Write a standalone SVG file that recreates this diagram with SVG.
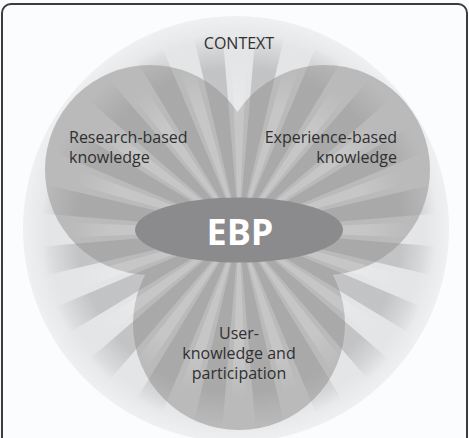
<svg xmlns="http://www.w3.org/2000/svg" xmlns:xlink="http://www.w3.org/1999/xlink" width="469" height="438" viewBox="0 0 469 438">
  <style>
    .lbl { font-family: "Open Sans", "Liberation Sans", sans-serif; font-size: 16px; fill: #303030; }
    .lobe { fill: #bababb; }
    .ebp { font-family: "Open Sans", "Liberation Sans", sans-serif; font-size: 36px; font-weight: bold; fill: #ffffff; }
  </style>
  <defs>
    <radialGradient id="ctxGrad" gradientUnits="userSpaceOnUse" cx="236" cy="229" r="213">
      <stop offset="0" stop-color="#e2e3e5"/>
      <stop offset="0.88" stop-color="#e4e5e7"/>
      <stop offset="1" stop-color="#eef0f2"/>
    </radialGradient>
    <radialGradient id="rayDark" gradientUnits="userSpaceOnUse" cx="239" cy="230" r="198">
      <stop offset="0" stop-color="#8e8e8e" stop-opacity="0.38"/>
      <stop offset="0.82" stop-color="#8e8e8e" stop-opacity="0.38"/>
      <stop offset="1" stop-color="#8e8e8e" stop-opacity="0"/>
    </radialGradient>
    <radialGradient id="rayLight" gradientUnits="userSpaceOnUse" cx="239" cy="230" r="170">
      <stop offset="0" stop-color="#ffffff" stop-opacity="0.18"/>
      <stop offset="0.75" stop-color="#ffffff" stop-opacity="0.18"/>
      <stop offset="1" stop-color="#ffffff" stop-opacity="0"/>
    </radialGradient>
    <polygon id="rd" points="239,230 436.5,215.5 436.5,244.5" fill="url(#rayDark)"/>
    <polygon id="rl" points="239,230 408.8,222.6 408.8,237.4" fill="url(#rayLight)"/>
  </defs>

  <rect x="0" y="0" width="469" height="438" fill="#fbfcfd"/>
  <rect x="2" y="4" width="465" height="470" rx="9" ry="9" fill="none" stroke="#3c3c3c" stroke-width="2"/>

  <g id="context">
    <circle cx="236" cy="229" r="213" fill="url(#ctxGrad)"/>
  </g>

  <g id="user-knowledge">
    <circle class="lobe" cx="239" cy="324" r="106"/>
  </g>
  <g id="research-based">
    <circle class="lobe" cx="150" cy="170" r="105"/>
  </g>
  <g id="experience-based">
    <circle class="lobe" cx="325" cy="170" r="105"/>
  </g>

  <g id="connectors">
    <use xlink:href="#rd" transform="rotate(9 239 230)"/>
    <use xlink:href="#rd" transform="rotate(27 239 230)"/>
    <use xlink:href="#rd" transform="rotate(45 239 230)"/>
    <use xlink:href="#rd" transform="rotate(63 239 230)"/>
    <use xlink:href="#rd" transform="rotate(81 239 230)"/>
    <use xlink:href="#rd" transform="rotate(99 239 230)"/>
    <use xlink:href="#rd" transform="rotate(117 239 230)"/>
    <use xlink:href="#rd" transform="rotate(135 239 230)"/>
    <use xlink:href="#rd" transform="rotate(153 239 230)"/>
    <use xlink:href="#rd" transform="rotate(171 239 230)"/>
    <use xlink:href="#rd" transform="rotate(189 239 230)"/>
    <use xlink:href="#rd" transform="rotate(207 239 230)"/>
    <use xlink:href="#rd" transform="rotate(225 239 230)"/>
    <use xlink:href="#rd" transform="rotate(243 239 230)"/>
    <use xlink:href="#rd" transform="rotate(261 239 230)"/>
    <use xlink:href="#rd" transform="rotate(279 239 230)"/>
    <use xlink:href="#rd" transform="rotate(297 239 230)"/>
    <use xlink:href="#rd" transform="rotate(315 239 230)"/>
    <use xlink:href="#rd" transform="rotate(333 239 230)"/>
    <use xlink:href="#rd" transform="rotate(351 239 230)"/>
    <use xlink:href="#rl" transform="rotate(0 239 230)"/>
    <use xlink:href="#rl" transform="rotate(18 239 230)"/>
    <use xlink:href="#rl" transform="rotate(36 239 230)"/>
    <use xlink:href="#rl" transform="rotate(54 239 230)"/>
    <use xlink:href="#rl" transform="rotate(72 239 230)"/>
    <use xlink:href="#rl" transform="rotate(90 239 230)"/>
    <use xlink:href="#rl" transform="rotate(108 239 230)"/>
    <use xlink:href="#rl" transform="rotate(126 239 230)"/>
    <use xlink:href="#rl" transform="rotate(144 239 230)"/>
    <use xlink:href="#rl" transform="rotate(162 239 230)"/>
    <use xlink:href="#rl" transform="rotate(180 239 230)"/>
    <use xlink:href="#rl" transform="rotate(198 239 230)"/>
    <use xlink:href="#rl" transform="rotate(216 239 230)"/>
    <use xlink:href="#rl" transform="rotate(234 239 230)"/>
    <use xlink:href="#rl" transform="rotate(252 239 230)"/>
    <use xlink:href="#rl" transform="rotate(270 239 230)"/>
    <use xlink:href="#rl" transform="rotate(288 239 230)"/>
    <use xlink:href="#rl" transform="rotate(306 239 230)"/>
    <use xlink:href="#rl" transform="rotate(324 239 230)"/>
    <use xlink:href="#rl" transform="rotate(342 239 230)"/>
  </g>

  <g id="ebp">
    <ellipse cx="239" cy="230" rx="104" ry="32.5" fill="#8b8b8d"/>
    <text class="ebp" x="240" y="245" text-anchor="middle">EBP</text>
  </g>

  <g id="labels">
    <text class="lbl" x="239" y="49" text-anchor="middle">CONTEXT</text>
    <text class="lbl" x="69" y="143">Research-based</text>
    <text class="lbl" x="69" y="163">knowledge</text>
    <text class="lbl" x="397" y="143" text-anchor="end">Experience-based</text>
    <text class="lbl" x="397" y="163" text-anchor="end">knowledge</text>
    <text class="lbl" x="239" y="339" text-anchor="middle">User-</text>
    <text class="lbl" x="239" y="359" text-anchor="middle">knowledge and</text>
    <text class="lbl" x="239" y="379" text-anchor="middle">participation</text>
  </g>
</svg>
